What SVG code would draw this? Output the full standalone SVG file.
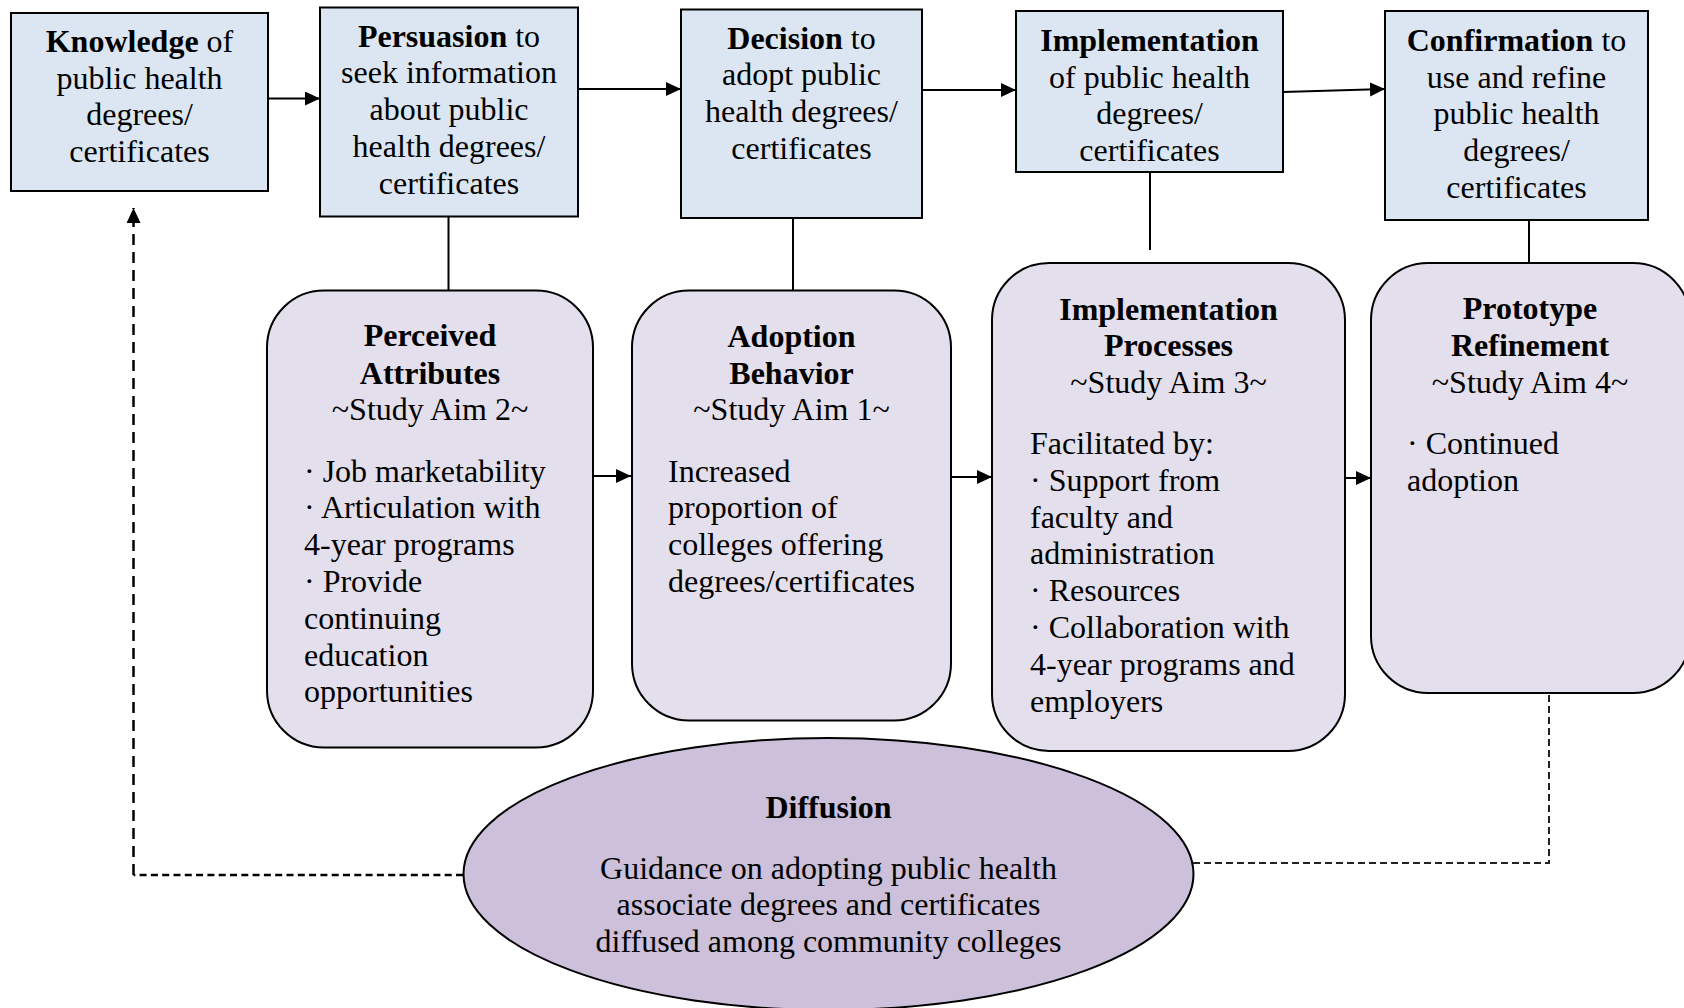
<svg xmlns="http://www.w3.org/2000/svg" width="1684" height="1008" viewBox="0 0 1684 1008">
  <defs>
    <style>
      text { font-family: "Liberation Serif", "Times New Roman", serif; font-size: 32px; fill: #000; }
      .c { text-anchor: middle; }
      .b { font-weight: bold; }
      .stage { fill: #DCE6F2; stroke: #000; stroke-width: 2; }
      .aim { fill: #E4DFEC; stroke: #000; stroke-width: 2; }
      .diff { fill: #CCC0DA; stroke: #000; stroke-width: 2; }
      .link { fill: none; stroke: #000; stroke-width: 2; }
      .dash-a { fill: none; stroke: #000; stroke-width: 2.5; stroke-dasharray: 7 4.3; }
      .dash-b { fill: none; stroke: #000; stroke-width: 2.5; stroke-dasharray: 11 7; }
      .dash-c { fill: none; stroke: #222; stroke-width: 2; stroke-dasharray: 7 4; }
    </style>
    <marker id="arrow" markerUnits="userSpaceOnUse" markerWidth="16" markerHeight="15" refX="15" refY="7" orient="auto">
      <path d="M0,0 L15,7 L0,14 Z" fill="#000"/>
    </marker>
  </defs>

  <rect width="1684" height="1008" fill="#fff"/>

  <!-- connectors -->
  <g id="connectors">
    <!-- stage sequence -->
    <path class="link" d="M268,98.5 H320" marker-end="url(#arrow)"/>
    <path class="link" d="M578,89 H681" marker-end="url(#arrow)"/>
    <path class="link" d="M922,90 H1016" marker-end="url(#arrow)"/>
    <path class="link" d="M1283,92 L1385,89" marker-end="url(#arrow)"/>
    <!-- stage to aim ties -->
    <path class="link" d="M448.5,217 V290"/>
    <path class="link" d="M793,218 V290"/>
    <path class="link" d="M1150,172 V250"/>
    <path class="link" d="M1529,220 V263"/>
    <!-- aim sequence -->
    <path class="link" d="M593,476 H631" marker-end="url(#arrow)"/>
    <path class="link" d="M951,477 H992" marker-end="url(#arrow)"/>
    <path class="link" d="M1345,478 H1371" marker-end="url(#arrow)"/>
    <!-- diffusion feedback loop -->
    <path class="dash-a" d="M463,875 H133.5"/>
    <path class="dash-b" d="M133.5,875 V208" marker-end="url(#arrow)"/>
    <path class="dash-c" d="M1193,863 H1549 V693"/>
  </g>

  <!-- stages -->
  <g id="knowledge">
    <rect class="stage" x="11" y="13" width="257" height="178"/>
    <text class="c" x="139.5" y="52"><tspan class="b">Knowledge</tspan> of</text>
    <text class="c" x="139.5" y="88.6">public health</text>
    <text class="c" x="139.5" y="125.4">degrees/</text>
    <text class="c" x="139.5" y="162.2">certificates</text>
  </g>

  <g id="persuasion">
    <rect class="stage" x="320" y="7.5" width="258" height="209"/>
    <text class="c" x="449" y="46.5"><tspan class="b">Persuasion</tspan> to</text>
    <text class="c" x="449" y="83.3">seek information</text>
    <text class="c" x="449" y="120.1">about public</text>
    <text class="c" x="449" y="156.9">health degrees/</text>
    <text class="c" x="449" y="193.7">certificates</text>
  </g>

  <g id="decision">
    <rect class="stage" x="681" y="9.5" width="241" height="208.5"/>
    <text class="c" x="801.5" y="48.5"><tspan class="b">Decision</tspan> to</text>
    <text class="c" x="801.5" y="85.3">adopt public</text>
    <text class="c" x="801.5" y="122.1">health degrees/</text>
    <text class="c" x="801.5" y="158.9">certificates</text>
  </g>

  <g id="implementation">
    <rect class="stage" x="1016" y="11" width="267" height="161"/>
    <text class="c b" x="1149.5" y="50.8">Implementation</text>
    <text class="c" x="1149.5" y="87.6">of public health</text>
    <text class="c" x="1149.5" y="124.4">degrees/</text>
    <text class="c" x="1149.5" y="161.2">certificates</text>
  </g>

  <g id="confirmation">
    <rect class="stage" x="1385" y="11" width="263" height="209"/>
    <text class="c" x="1516.5" y="50.8"><tspan class="b">Confirmation</tspan> to</text>
    <text class="c" x="1516.5" y="87.6">use and refine</text>
    <text class="c" x="1516.5" y="124.4">public health</text>
    <text class="c" x="1516.5" y="161.2">degrees/</text>
    <text class="c" x="1516.5" y="198">certificates</text>
  </g>

  <!-- study aims -->
  <g id="perceived-attributes">
    <rect class="aim" x="267" y="290.5" width="326" height="457" rx="57" ry="57"/>
    <text class="c b" x="430" y="346">Perceived</text>
    <text class="c b" x="430" y="383.5">Attributes</text>
    <text class="c" x="430" y="420">~Study Aim 2~</text>
    <text x="304" y="481.5">· Job marketability</text>
    <text x="304" y="518.3">· Articulation with</text>
    <text x="304" y="555.1">4-year programs</text>
    <text x="304" y="591.9">· Provide</text>
    <text x="304" y="628.7">continuing</text>
    <text x="304" y="665.5">education</text>
    <text x="304" y="702.3">opportunities</text>
  </g>

  <g id="adoption-behavior">
    <rect class="aim" x="632" y="290.5" width="319" height="430" rx="57" ry="57"/>
    <text class="c b" x="791.5" y="346.5">Adoption</text>
    <text class="c b" x="791.5" y="383.5">Behavior</text>
    <text class="c" x="791.5" y="420">~Study Aim 1~</text>
    <text x="668" y="481.5">Increased</text>
    <text x="668" y="518.3">proportion of</text>
    <text x="668" y="555.1">colleges offering</text>
    <text x="668" y="591.9">degrees/certificates</text>
  </g>

  <g id="implementation-processes">
    <rect class="aim" x="992" y="263" width="353" height="488" rx="57" ry="57"/>
    <text class="c b" x="1168.5" y="319.5">Implementation</text>
    <text class="c b" x="1168.5" y="356.3">Processes</text>
    <text class="c" x="1168.5" y="393">~Study Aim 3~</text>
    <text x="1030" y="454">Facilitated by:</text>
    <text x="1030" y="490.8">· Support from</text>
    <text x="1030" y="527.6">faculty and</text>
    <text x="1030" y="564.4">administration</text>
    <text x="1030" y="601.2">· Resources</text>
    <text x="1030" y="638">· Collaboration with</text>
    <text x="1030" y="674.8">4-year programs and</text>
    <text x="1030" y="711.6">employers</text>
  </g>

  <g id="prototype-refinement">
    <rect class="aim" x="1371" y="263" width="319" height="430" rx="57" ry="57"/>
    <text class="c b" x="1530" y="319.3">Prototype</text>
    <text class="c b" x="1530" y="356">Refinement</text>
    <text class="c" x="1530" y="392.5">~Study Aim 4~</text>
    <text x="1407" y="453.8">· Continued</text>
    <text x="1407" y="490.6">adoption</text>
  </g>

  <!-- diffusion -->
  <g id="diffusion">
    <ellipse class="diff" cx="828.5" cy="874" rx="365" ry="136"/>
    <text class="c b" x="828.5" y="817.5">Diffusion</text>
    <text class="c" x="828.5" y="878.5">Guidance on adopting public health</text>
    <text class="c" x="828.5" y="915.3">associate degrees and certificates</text>
    <text class="c" x="828.5" y="952.1">diffused among community colleges</text>
  </g>
</svg>
